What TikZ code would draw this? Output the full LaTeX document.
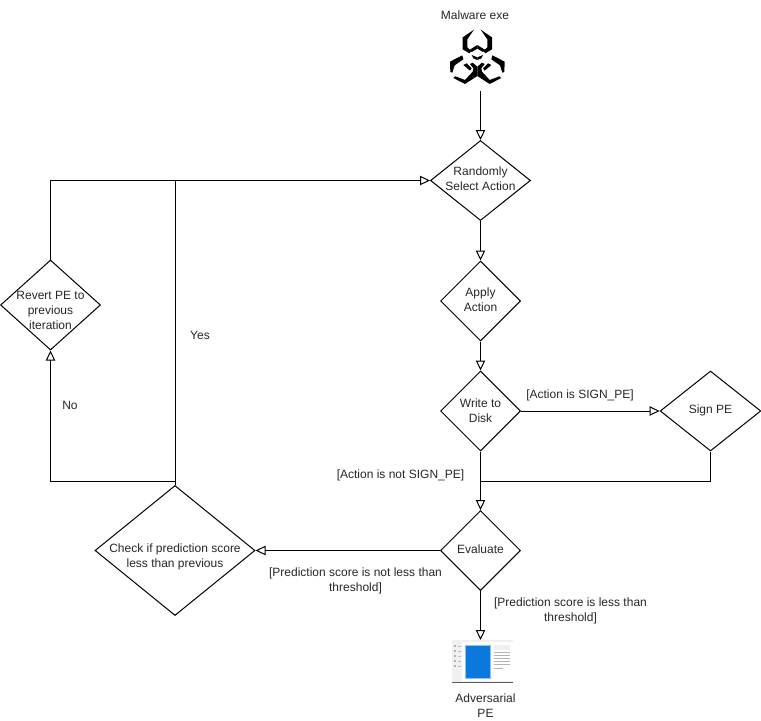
\documentclass[tikz,border=0pt]{standalone}
\usepackage{fontspec}
\setmainfont{Liberation Sans}
\usetikzlibrary{arrows.meta,shapes.geometric}
\definecolor{pageblue}{HTML}{0A78DC}
\definecolor{pageedge}{HTML}{8CC4F0}
\tikzset{
    decision/.style={draw, diamond, inner sep=-10pt, align=center, text=black!85},
    caption/.style={inner sep=0pt, align=center, text=black!85},
    flow/.style={draw, -{Triangle[fill=white,length=7.5pt,width=7pt]}}
}
% diamond text, raised by #1 from the middle of the shape
\newcommand{\steptext}[2]{\raisebox{\dimexpr#1-2.25pt}[0pt][0pt]{\begin{tabular}{@{}c@{}}#2\end{tabular}}}
\begin{document}
\begin{tikzpicture}[x=0.75pt, y=-0.75pt, line width=0.75pt,
        font=\fontsize{9}{11.25}\selectfont]
    \useasboundingbox (0,0) rectangle (761,721);
    % malware icon
    \node[caption] (exelabel) at (475,15) {Malware exe};
    \foreach \s in {1,-1} {
        \begin{scope}[shift={(477.33,0)}, xscale=\s/3, yscale=1/3]
            \fill (-10,89) -- (-44,112) -- (-44,148) -- (-24,160) -- (-18,153) -- (-30,142) -- (-30,118) -- cycle;
            \fill (-45,166) -- (-82,185) -- (-81,216) -- (-75,218) -- (-68,196) -- (-42,178) -- cycle;
            \fill (-72,234) -- (-37,252) -- (0,228) -- (0,200) -- (-14,188) -- (-22,192) -- (-12,205) -- (-14,215) -- (-37,240) -- (-66,229) -- cycle;
            \fill (-42,195) -- (-22,212) -- (-17,205) -- (-32,190) -- cycle;
            \fill (-24,150) -- (0,135) -- (0,146) -- (-17,156) -- cycle;
            \fill (-17,165) -- (0,172) -- (0,180) -- (-12,175) -- cycle;
        \end{scope}
    }
    \coordinate (exe) at (480.5,91);

    % flow steps
    \node[decision, minimum width=75pt, minimum height=60pt] (random) at (480.5,180.5) {\steptext{0.75pt}{Randomly\\Select Action}};
    \node[decision, minimum width=60pt, minimum height=60pt] (apply) at (480.5,301) {\steptext{0pt}{Apply\\Action}};
    \node[decision, minimum width=60pt, minimum height=60pt] (write) at (480.5,411) {\steptext{-0.75pt}{Write to\\Disk}};
    \node[decision, minimum width=75.5pt, minimum height=60pt] (sign) at (710.5,411) {\steptext{0.75pt}{Sign PE}};
    \node[decision, minimum width=60pt, minimum height=60pt] (evaluate) at (480.5,550.5) {\steptext{0.25pt}{Evaluate}};
    \node[decision, minimum width=120pt, minimum height=97.5pt] (check) at (175,550.5) {\steptext{-4.75pt}{Check if prediction score\\less than previous}};
    \node[decision, minimum width=75pt, minimum height=67.5pt] (revert) at (50.5,305) {\steptext{-4.5pt}{Revert PE to\\previous\\iteration}};

    % adversarial PE icon
    \fill[black!6] (452,640) rectangle (513,682);
    \draw[black!65] (452,682.5) -- (513,682.5);
    \fill[white] (462,642) rectangle (513,681);
    \fill[black!6] (494,645) rectangle (510,650);
    \draw[pageedge, fill=pageblue] (465.5,645) rectangle (490.5,678);
    \foreach \y in {645,650,655,660,665} {
        \fill[black!30] (454,\y) rectangle (456,\y+2);
        \fill[black!25] (458,\y+0.5) rectangle (461,\y+1.5);
    }
    \foreach \y in {652,655,658,661,664} {
        \draw[black!30, line width=0.5pt] (494,\y) -- (510,\y);
    }
    \draw[black!30, line width=0.5pt] (494,668) -- (503,668);
    \coordinate (pe) at (480.5,640);
    \node[caption] (pelabel) at (485.5,706) {Adversarial\\PE};

    % connectors
    \coordinate (merge) at (480.5,481);
    \coordinate (nobend) at (175,481);
    \coordinate (yesbend) at (175,180.5);
    \draw[flow] (exe) -- (random.north);
    \draw[flow] (random.south) -- (apply.north);
    \draw[flow] (apply.south) -- (write.north);
    \draw[flow] (write.east) -- (sign.west);
    \draw[flow] (write.south) -- (evaluate.north);
    \draw (sign.south) |- (merge);
    \draw[flow] (evaluate.west) -- (check.east);
    \draw[flow] (evaluate.south) -- (pe);
    \draw (check.north) -- (yesbend);
    \draw[flow] (nobend) -| (revert.south);
    \draw[flow] (revert.north) |- (random.west);

    % labels
    \node[caption] (signlabel) at (580,395) {[Action is SIGN\_PE]};
    \node[caption] (nosignlabel) at (400.5,475) {[Action is not SIGN\_PE]};
    \node[caption] (notlesslabel) at (355.5,581) {[Prediction score is not less than\\threshold]};
    \node[caption] (lesslabel) at (570.5,610.5) {[Prediction score is less than\\threshold]};
    \node[caption] (yeslabel) at (200,335) {Yes};
    \node[caption] (nolabel) at (70,405) {No};
\end{tikzpicture}
\end{document}
